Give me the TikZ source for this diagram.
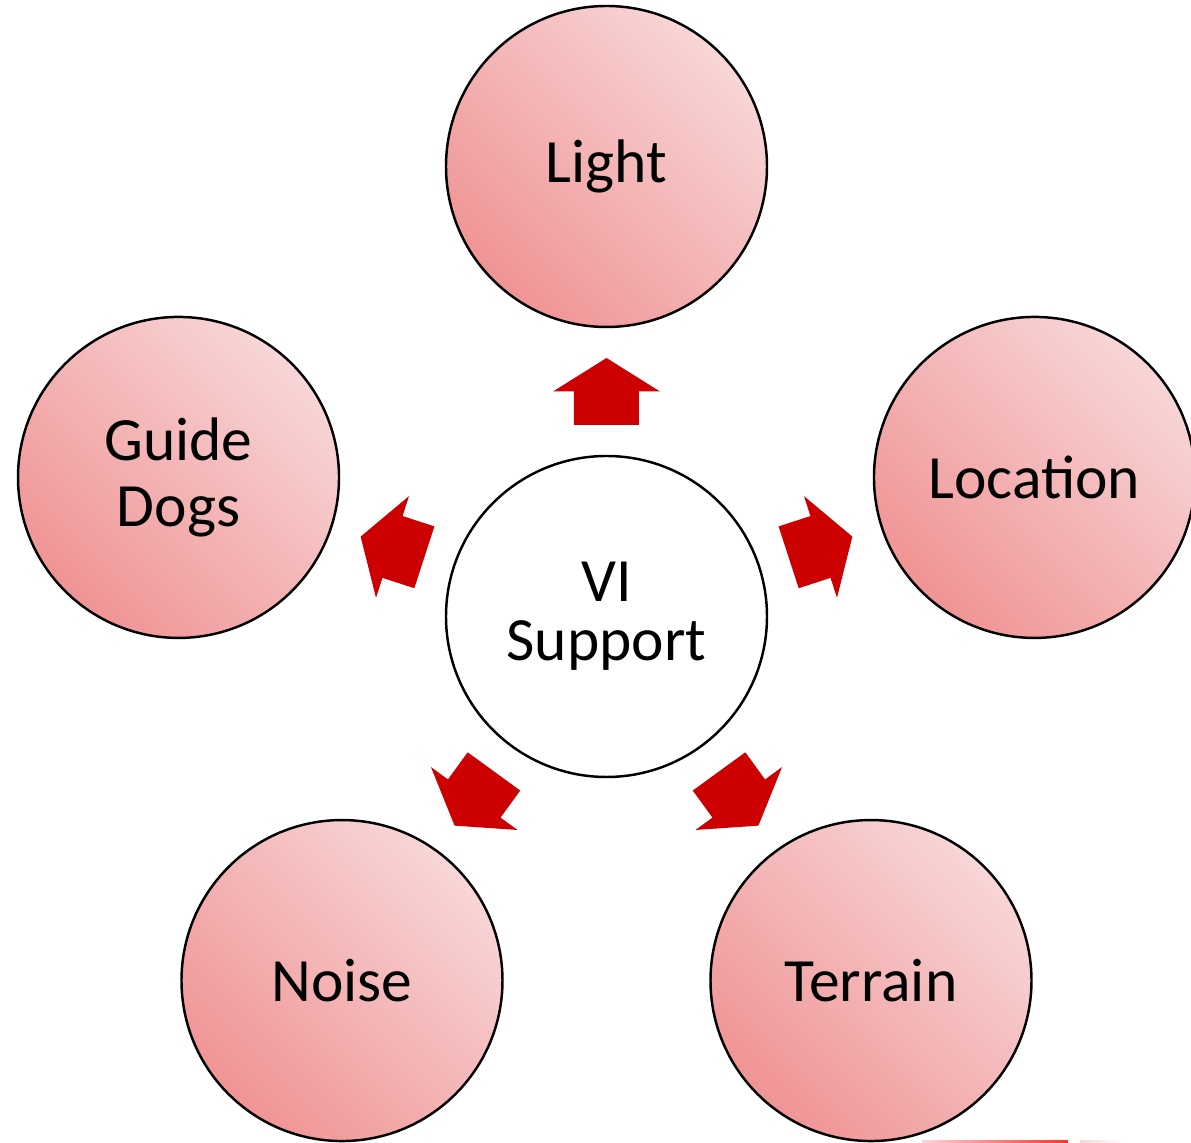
\documentclass[tikz,border=0pt]{standalone}
\usepackage{fontspec}
\setmainfont{Carlito}
\usetikzlibrary{calc}

\definecolor{bubblelight}{RGB}{248,214,215}
\definecolor{bubbledark}{RGB}{240,148,149}
\definecolor{arrowred}{RGB}{204,0,0}

\tikzset{
  ring/.style={circle,draw=black,line width=0.7pt,minimum size=3.21cm,
    inner sep=0pt,align=center,font=\fontsize{17.5}{18.8}\selectfont},
  bubble/.style={ring,top color=bubblelight,bottom color=bubbledark,shading angle=-45},
  blockarrow/.pic={
    \fill[arrowred] (-33.5,-32.5) -- (0,-32.5) -- (0,-53.5) -- (33.5,0)
      -- (0,53.5) -- (0,32.5) -- (-33.5,32.5) -- cycle;
  }
}

\begin{document}
\begin{tikzpicture}[x=0.1mm,y=0.1mm]
        \useasboundingbox (-606.5,-526.5) rectangle (584.5,616.5);

        % centre and the five factors
        \node[ring,fill=white,font=\fontsize{17.5}{16.8}\selectfont] (hub) at (0,0) {VI\\Support};
        \node[bubble] (light) at (90:450) {Light};
        \node[bubble] (location) at (18:450) {Location};
        \node[bubble] (terrain) at (-54:450) {Terrain};
        \node[bubble] (noise) at (-126:450) {Noise};
        \node[bubble] (dogs) at (162:450) {Guide\\Dogs};

        % block arrows
        \pic[rotate=90] at ($(hub)!0.5!(light)$) {blockarrow};
        \pic[rotate=18] at ($(hub)!0.5!(location)$) {blockarrow};
        \pic[rotate=-54] at ($(hub)!0.5!(terrain)$) {blockarrow};
        \pic[rotate=-126] at ($(hub)!0.5!(noise)$) {blockarrow};
        \pic[rotate=162] at ($(hub)!0.5!(dogs)$) {blockarrow};

        % stray strip at the bottom edge
        \shade[left color=bubblelight,right color=red!75!pink] (315.5,-526.5) rectangle (461.5,-524.5);
        \shade[left color=bubblelight,right color=white] (473.5,-526.5) rectangle (516.5,-524.5);

    \end{tikzpicture}
\end{document}
